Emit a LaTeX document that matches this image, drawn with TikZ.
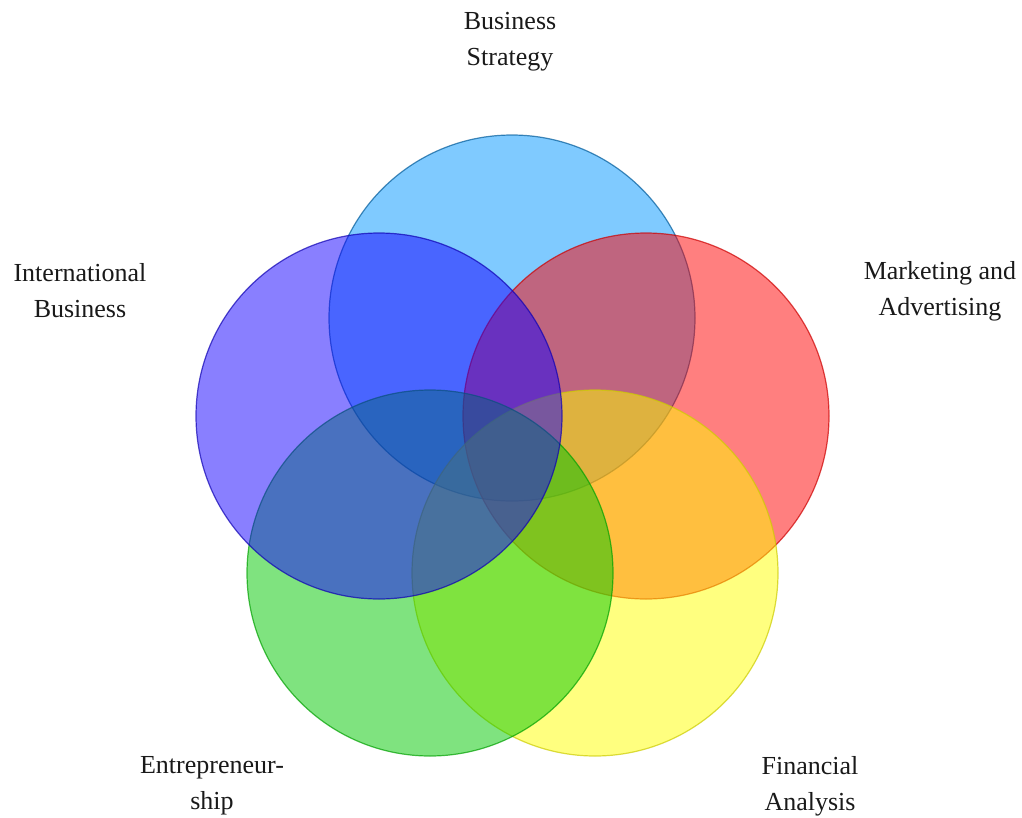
\documentclass[tikz,border=0pt]{standalone}
\usepackage{fontspec}
\setmainfont{Liberation Serif}
\definecolor{cblue}{RGB}{0,150,255}
\definecolor{cred}{RGB}{255,0,0}
\definecolor{cyellow}{RGB}{255,255,0}
\definecolor{cgreen}{RGB}{0,200,0}
\definecolor{cpurple}{RGB}{20,0,255}
\tikzset{
  venn/.style={circle, minimum size=366pt, inner sep=0pt, fill opacity=0.5, draw opacity=0.7, line width=1.2pt},
  lbl/.style={align=center, font=\fontsize{26}{36}\selectfont, text=black!90}
}
\begin{document}
\begin{tikzpicture}[x=1pt,y=-1pt]
\useasboundingbox (0,0) rectangle (1022,817);
\node[venn, fill=cblue, draw=cblue!60!black] (bs) at (512,318) {};
\node[venn, fill=cred, draw=cred!80!black] (ma) at (646,416) {};
\node[venn, fill=cyellow, draw=cyellow!80!black] (fa) at (595,573) {};
\node[venn, fill=cgreen, draw=cgreen!80!black] (en) at (430,573) {};
\node[venn, fill=cpurple, draw=cpurple!70!black] (ib) at (379,416) {};
\node[lbl] (tbs) at (510,42) {Business\\Strategy};
\node[lbl] (tib) at (80,291) {International\\Business};
\node[lbl] (tma) at (940,291) {Marketing and\\Advertising};
\node[lbl] (ten) at (212,786) {Entrepreneur-\\ship};
\node[lbl] (tfa) at (810,786) {Financial\\Analysis};
\end{tikzpicture}
\end{document}
